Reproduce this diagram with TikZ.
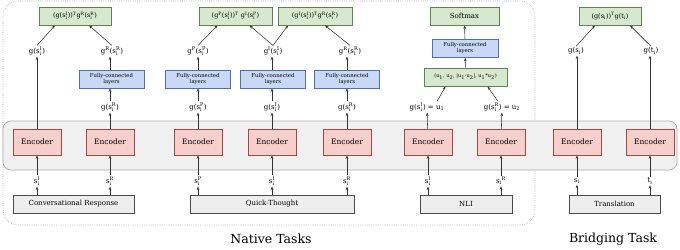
\documentclass[tikz,border=0pt]{standalone}
\usepackage{amsmath}
\usepackage{fontspec}
\setmainfont{DejaVu Serif}
\usetikzlibrary{arrows.meta,calc,positioning}
\definecolor{encfill}{HTML}{F6CFCD}
\definecolor{encline}{HTML}{9E4A45}
\definecolor{fcfill}{HTML}{C9D8F6}
\definecolor{fcline}{HTML}{4F6FAE}
\definecolor{scfill}{HTML}{D6E9CF}
\definecolor{scline}{HTML}{5E8350}
\definecolor{taskfill}{HTML}{EEEEEE}
\definecolor{taskline}{HTML}{4A4A4A}
\newcommand\supsub[2]{$^{\text{#1}}_{\text{#2}}$}
\tikzset{
  enc/.style   = {draw=encline, fill=encfill, line width=0.8pt, minimum width=48pt,
                  minimum height=26pt, inner sep=0pt, font=\fontsize{7.5}{9}\selectfont},
  fcbox/.style = {draw=fcline, fill=fcfill, line width=0.8pt, minimum width=65pt,
                  minimum height=18pt, inner sep=0pt, align=center,
                  font=\fontsize{5.3}{6}\selectfont},
  score/.style = {draw=scline, fill=scfill, line width=0.8pt, minimum height=18pt,
                  inner sep=0pt, font=\fontsize{6.5}{8}\selectfont},
  task/.style  = {draw=taskline, fill=taskfill, line width=0.8pt, minimum height=18pt,
                  inner sep=0pt, font=\fontsize{7}{8}\selectfont},
  lbl/.style   = {inner sep=1pt, font=\fontsize{7}{8}\selectfont},
  arr/.style   = {-{Stealth[length=3.5pt,width=2.6pt]}, line width=0.55pt, black!80},
  group/.style = {draw=gray!70, line width=0.6pt, dash pattern=on 0.6pt off 1.2pt,
                  rounded corners=15pt},
  band/.style  = {draw=gray!65, fill=gray!12, line width=0.7pt, rounded corners=8pt},
}
\begin{document}
\begin{tikzpicture}[x=1pt,y=-1pt]
  \useasboundingbox (0,0) rectangle (680,249);
  % frames
  \draw[group] (3,1) rectangle (535,225);
  \draw[band] (3,121) rectangle (677,170);
  % encoders
  \node[enc] (e1) at (37,142) {Encoder};
  \node[enc] (e2) at (110,142) {Encoder};
  \node[enc] (e3) at (198,142) {Encoder};
  \node[enc] (e4) at (272,142) {Encoder};
  \node[enc] (e5) at (347,142) {Encoder};
  \node[enc] (e6) at (428,142) {Encoder};
  \node[enc] (e7) at (501,142) {Encoder};
  \node[enc] (e8) at (577,142) {Encoder};
  \node[enc] (e9) at (650,142) {Encoder};
  % inputs
  \node[lbl] (s1) at (37,181) {s\supsub{I}{i}};
  \node[lbl] (s2) at (110,181) {s\supsub{R}{i}};
  \node[lbl] (s3) at (198,181) {s\supsub{P}{i}};
  \node[lbl] (s4) at (272,181) {s\supsub{I}{i}};
  \node[lbl] (s5) at (347,181) {s\supsub{R}{i}};
  \node[lbl] (s6) at (428,181) {s\supsub{I}{i}};
  \node[lbl] (s7) at (501,181) {s\textsubscript{i}\textsuperscript{R}};
  \node[lbl] (s8) at (577,181) {s\textsubscript{i}};
  \node[lbl] (s9) at (650,181) {t\textsubscript{i}};
  % tasks
  \node[task, minimum width=121pt] (cr) at (73.5,204) {Conversational Response};
  \node[task, minimum width=164pt] (qt) at (272,204) {Quick-Thought};
  \node[task, minimum width=92pt] (nli) at (466,204) {NLI};
  \node[task, minimum width=91pt] (tr) at (614.5,204) {Translation};
  \foreach \i/\t in {1/cr,2/cr,3/qt,4/qt,5/qt,6/nli,7/nli,8/tr,9/tr} {
    \draw[arr] (\t.north -| s\i) -- (s\i);
    \draw[arr] (s\i) -- (e\i);
  }
  % encoder outputs
  \node[lbl] (l2) at (110,107) {g(s\supsub{R}{i})};
  \node[lbl] (l3) at (198,107) {g(s\supsub{P}{i})};
  \node[lbl] (l4) at (272,107) {g(s\supsub{I}{i})};
  \node[lbl] (l5) at (347,107) {g(s\supsub{R}{i})};
  \node[lbl] (l6) at (427,107) {g(s\supsub{I}{i}) = u\textsubscript{1}};
  \node[lbl] (l7) at (502,107) {g(s\supsub{R}{i}) = u\textsubscript{2}};
  % fully-connected layers
  \node[fcbox] (f2) at (111.5,79) {Fully-connected\\layers};
  \node[fcbox] (f3) at (198,79) {Fully-connected\\layers};
  \node[fcbox] (f4) at (273,79) {Fully-connected\\layers};
  \node[fcbox] (f5) at (347,79) {Fully-connected\\layers};
  \foreach \i in {2,3,4,5,6,7} \draw[arr] (e\i) -- (l\i);
  \foreach \i in {2,3,4,5} \draw[arr] (l\i) -- (l\i |- f\i.south);
  % heads
  \node[lbl] (h1) at (37,51) {g(s\supsub{I}{i})};
  \node[lbl] (h2) at (112,51) {g\textsuperscript{R}(s\supsub{R}{i})};
  \node[lbl] (h3) at (198,51) {g\textsuperscript{P}(s\supsub{P}{i})};
  \node[lbl] (h4) at (273,51) {g\textsuperscript{I}(s\supsub{I}{i})};
  \node[lbl] (h5) at (350,51) {g\textsuperscript{R}(s\supsub{R}{i})};
  \node[lbl] (h8) at (576,51) {g(s\textsubscript{i})};
  \node[lbl] (h9) at (651,51) {g(t\textsubscript{i})};
  \draw[arr] (e1) -- (e1 |- h1.south);
  \draw[arr] (e8) -- (e8 |- h8.south);
  \draw[arr] (e9) -- (e9 |- h9.south);
  \foreach \i in {2,3,4,5} \draw[arr] (f\i.north -| l\i) -- (l\i |- h\i.south);
  % scores
  \node[score, minimum width=72pt] (crs) at (75,16)
    {(g(s\supsub{I}{i}))\textsuperscript{T}g\textsuperscript{R}(s\supsub{R}{i})};
  \node[score, minimum width=73pt] (qs1) at (235.5,16)
    {(g\textsuperscript{P}(s\supsub{I}{i}))\textsuperscript{T} g\textsuperscript{I}(s\supsub{P}{i})};
  \node[score, minimum width=74pt] (qs2) at (315,16)
    {(g\textsuperscript{I}(s\supsub{I}{i}))\textsuperscript{T}g\textsuperscript{R}(s\supsub{R}{i})};
  \node[score, minimum width=62pt] (trs) at (610,16)
    {(g(s\textsubscript{i}))\textsuperscript{T}g(t\textsubscript{i})};
  \draw[arr] (h1.north) -- ([xshift=-20pt]crs.south);
  \draw[arr] (h2.north) -- ([xshift=14pt]crs.south);
  \draw[arr] (h3.north) -- ([xshift=-18pt]qs1.south);
  \draw[arr] (h4.north) -- ([xshift=14pt]qs1.south);
  \draw[arr] (h4.north) -- ([xshift=-27pt]qs2.south);
  \draw[arr] (h5.north) -- ([xshift=10pt]qs2.south);
  \draw[arr] (h8.north) -- ([xshift=-15pt]trs.south);
  \draw[arr] (h9.north) -- ([xshift=20pt]trs.south);
  % nli head
  \node[score, minimum width=83pt, font=\fontsize{5}{6}\selectfont] (feat) at (465.5,77)
    {(u\textsubscript{1}, u\textsubscript{2}, |u\textsubscript{1}-u\textsubscript{2}|, u\textsubscript{1}*u\textsubscript{2})};
  \node[fcbox, minimum width=66pt] (f6) at (465,48.5) {Fully-connected\\layers};
  \node[score, minimum width=69pt, font=\fontsize{7}{8}\selectfont] (soft) at (464.5,16) {Softmax};
  \draw[arr] ([xshift=10pt]l6.north) -- ([xshift=-20pt]feat.south);
  \draw[arr] ([xshift=-4pt]l7.north) -- ([xshift=22pt]feat.south);
  \draw[arr] (feat) -- (f6);
  \draw[arr] (f6) -- (soft);
  % titles
  \node[font=\fontsize{12.5}{14}\selectfont] (native) at (271,239) {Native Tasks};
  \node[font=\fontsize{12.5}{14}\selectfont] (bridge) at (613,239) {Bridging Task};
\end{tikzpicture}
\end{document}
